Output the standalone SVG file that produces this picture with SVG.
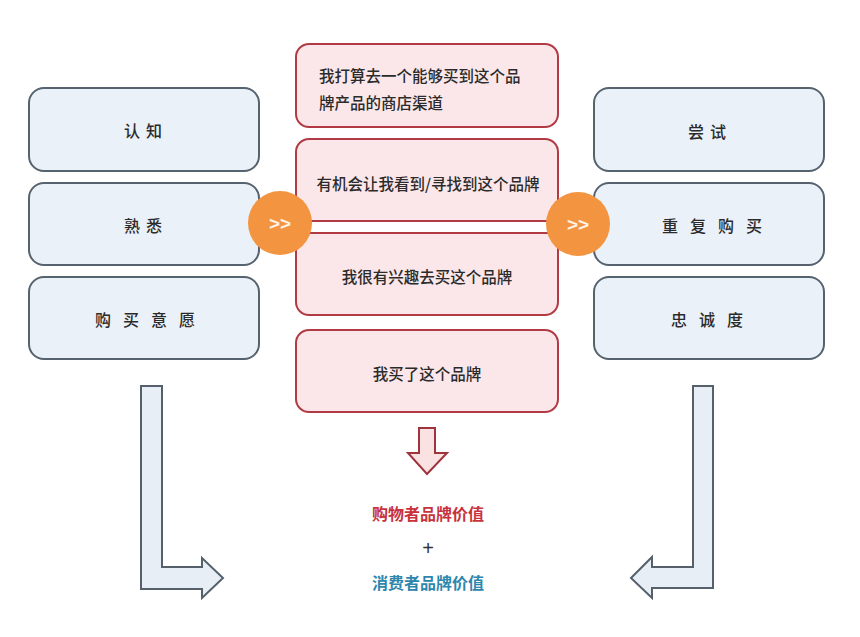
<svg xmlns="http://www.w3.org/2000/svg" width="860" height="637" viewBox="0 0 860 637">
<style>
.bg{fill:#ffffff}
.bbox{fill:#EBF1F8;stroke:#56636F;stroke-width:2}
.rbox{fill:#FBE7E9;stroke:#B23A45;stroke-width:2}
.t{font-family:"Noto Sans CJK SC","Noto Sans",sans-serif;font-size:16px;font-weight:500;fill:#2b2b2b;text-anchor:middle;dominant-baseline:central}
.tm{font-family:"Noto Sans CJK SC","Noto Sans",sans-serif;font-size:15.5px;font-weight:500;fill:#2b2b2b;dominant-baseline:central}
.circ{fill:#F39440}
.gt{font-family:"Liberation Sans",Arial,sans-serif;font-size:19px;font-weight:bold;fill:#FFF3E6;text-anchor:middle;dominant-baseline:central}
.larr{fill:#E8EEF5;stroke:#55606B;stroke-width:2;stroke-linejoin:miter}
.darr{fill:#FBE2E2;stroke:#A0343D;stroke-width:2}
.vt{font-family:"Noto Sans CJK SC","Noto Sans",sans-serif;font-size:16px;font-weight:bold;text-anchor:middle;dominant-baseline:central}
</style>
<rect class="bg" x="0" y="0" width="860" height="637"/>

<g id="left-1"><rect class="bbox" x="29" y="88" width="230" height="83" rx="15"/><text class="t" x="146" y="130" letter-spacing="6">认知</text></g>
<g id="left-2"><rect class="bbox" x="29" y="183" width="230" height="82" rx="15"/><text class="t" x="146" y="225" letter-spacing="6">熟悉</text></g>
<g id="left-3"><rect class="bbox" x="29" y="277" width="230" height="82" rx="15"/><text class="t" x="151" y="319" letter-spacing="12">购买意愿</text></g>

<g id="right-1"><rect class="bbox" x="594" y="88" width="230" height="83" rx="15"/><text class="t" x="710" y="131" letter-spacing="6">尝试</text></g>
<g id="right-2"><rect class="bbox" x="594" y="183" width="230" height="82" rx="15"/><text class="t" x="718" y="225" letter-spacing="12">重复购买</text></g>
<g id="right-3"><rect class="bbox" x="594" y="277" width="230" height="82" rx="15"/><text class="t" x="713" y="319" letter-spacing="12">忠诚度</text></g>

<g id="mid-1"><rect class="rbox" x="296" y="44" width="262" height="83" rx="13"/>
<text class="tm" x="319" y="75">我打算去一个能够买到这个品</text>
<text class="tm" x="319" y="102">牌产品的商店渠道</text></g>
<g id="mid-2"><rect class="rbox" x="296" y="139" width="262" height="90" rx="13"/>
<text class="tm" x="428" y="183" text-anchor="middle">有机会让我看到/寻找到这个品牌</text></g>
<g id="mid-3"><rect class="rbox" x="296" y="227" width="262" height="88" rx="13"/>
<text class="tm" x="427" y="276" text-anchor="middle">我很有兴趣去买这个品牌</text></g>
<g id="strip"><rect x="290" y="221" width="275" height="12" fill="#ffffff" stroke="#B23A45" stroke-width="2"/></g>
<g id="mid-4"><rect class="rbox" x="296" y="330" width="262" height="82" rx="13"/>
<text class="tm" x="427" y="373" text-anchor="middle">我买了这个品牌</text></g>

<g id="connectors">
<path class="larr" d="M141,386 L162,386 L162,567 L202,567 L202,558 L223,578 L202,598 L202,589 L141,589 Z"/>
<path class="larr" d="M713,386 L693,386 L693,567 L652,567 L652,557 L631,578 L652,598 L652,588 L713,588 Z"/>
<path class="darr" d="M419,428 L435,428 L435,453 L447,453 L427,474 L408,453 L419,453 Z"/>
</g>

<g id="circle-left"><circle class="circ" cx="280" cy="223" r="32"/><text class="gt" x="280" y="223">&gt;&gt;</text></g>
<g id="circle-right"><circle class="circ" cx="578" cy="224" r="32"/><text class="gt" x="578" y="224">&gt;&gt;</text></g>

<g id="values">
<text class="vt" x="428" y="513" fill="#C8323C">购物者品牌价值</text>
<text x="428" y="548" fill="#333333" font-family="Liberation Sans, Arial, sans-serif" font-size="20" text-anchor="middle" dominant-baseline="central">+</text>
<text class="vt" x="428" y="582" fill="#2E86AD">消费者品牌价值</text>
</g>
</svg>
